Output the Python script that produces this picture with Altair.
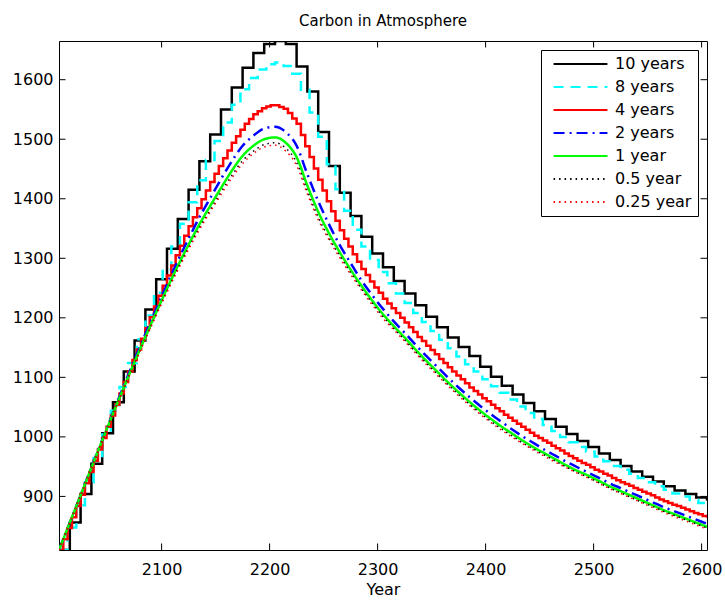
import altair as alt
import pandas as pd

# ---- data ----
years10 = list(range(2005, 2606, 10))
years8 = list(range(2005, 2606, 8))
years4 = list(range(2005, 2606, 4))

c10 = [810, 856, 904, 955, 1006, 1058, 1110, 1162, 1214, 1265,
       1316, 1366, 1415, 1463, 1508, 1550, 1587, 1620, 1645, 1660,
       1665, 1660, 1622, 1580, 1512, 1455, 1410, 1371, 1336, 1308,
       1285, 1262, 1241, 1221, 1202, 1184, 1167, 1151, 1136, 1118,
       1101, 1086, 1071, 1057, 1043, 1030, 1017, 1005, 993, 983,
       972, 961, 951, 942, 933, 925, 917, 910, 904, 898, 893]

c8 = [810, 848, 885, 924, 964, 1004, 1044, 1084, 1124, 1164,
      1204, 1242, 1281, 1320, 1358, 1394, 1431, 1465, 1497, 1528,
      1558, 1584, 1603, 1617, 1626, 1629, 1623, 1610, 1583, 1545,
      1504, 1458, 1416, 1380, 1348, 1320, 1297, 1277, 1258, 1241,
      1225, 1208, 1193, 1178, 1163, 1149, 1135, 1122, 1110, 1097,
      1085, 1074, 1063, 1051, 1040, 1030, 1020, 1010, 1000, 991,
      983, 975, 967, 959, 951, 945, 938, 931, 924, 917,
      911, 905, 900, 894, 889, 883]

c4 = [810, 828, 847, 865, 884, 903, 922, 941, 960, 979,
      998, 1017, 1036, 1054, 1073, 1092, 1110, 1129, 1147, 1165,
      1183, 1201, 1219, 1237, 1254, 1271, 1288, 1305, 1321, 1338,
      1354, 1369, 1384, 1399, 1414, 1428, 1442, 1455, 1468, 1481,
      1494, 1505, 1516, 1526, 1534, 1542, 1547, 1552, 1555, 1557,
      1557, 1554, 1551, 1544, 1535, 1526, 1507, 1488, 1470, 1451,
      1432, 1414, 1396, 1379, 1363, 1347, 1333, 1320, 1307, 1294,
      1282, 1272, 1261, 1251, 1242, 1232, 1224, 1216, 1208, 1200,
      1192, 1184, 1176, 1168, 1161, 1153, 1146, 1139, 1131, 1124,
      1117, 1110, 1103, 1097, 1090, 1083, 1077, 1071, 1065, 1060,
      1054, 1048, 1043, 1037, 1032, 1027, 1022, 1017, 1012, 1007,
      1002, 998, 994, 990, 985, 981, 977, 972, 968, 964,
      960, 956, 953, 949, 945, 942, 938, 935, 931, 927,
      924, 921, 918, 914, 911, 908, 905, 902, 898, 895,
      892, 889, 886, 884, 881, 878, 875, 872, 870, 867, 864]

c2 = [810, 856, 902, 949, 995, 1041, 1086, 1130, 1173, 1215,
      1256, 1296, 1333, 1369, 1401, 1433, 1463, 1489, 1506, 1518,
      1521, 1512, 1489, 1441, 1396, 1357, 1322, 1292, 1263, 1238,
      1215, 1194, 1175, 1155, 1136, 1118, 1100, 1083, 1067, 1052,
      1038, 1025, 1012, 1000, 989, 978, 968, 958, 949, 940,
      931, 922, 914, 906, 898, 890, 882, 875, 868, 861, 854]

c1 = [810, 856, 902, 948, 994, 1039, 1083, 1126, 1168, 1209,
      1249, 1287, 1323, 1357, 1388, 1418, 1447, 1472, 1489, 1500,
      1503, 1494, 1470, 1422, 1378, 1342, 1310, 1281, 1254, 1229,
      1206, 1186, 1167, 1147, 1128, 1110, 1092, 1075, 1059, 1044,
      1030, 1017, 1005, 993, 982, 972, 962, 952, 943, 935,
      926, 917, 909, 901, 893, 885, 877, 870, 863, 856, 849]

c05 = [810, 856, 902, 948, 993, 1038, 1082, 1124, 1165, 1206,
       1245, 1283, 1318, 1351, 1381, 1411, 1439, 1464, 1480, 1491,
       1494, 1485, 1461, 1413, 1369, 1334, 1304, 1276, 1249, 1225,
       1202, 1182, 1163, 1143, 1124, 1106, 1088, 1071, 1055, 1040,
       1026, 1013, 1001, 989, 979, 969, 959, 949, 940, 932,
       923, 914, 906, 898, 890, 883, 875, 868, 861, 854, 847]

c025 = [810, 856, 902, 947, 993, 1037, 1081, 1123, 1164, 1204,
        1243, 1280, 1315, 1348, 1378, 1407, 1435, 1459, 1476, 1487,
        1490, 1480, 1456, 1408, 1365, 1331, 1301, 1273, 1247, 1222,
        1199, 1180, 1161, 1141, 1122, 1104, 1086, 1069, 1053, 1038,
        1024, 1011, 999, 988, 977, 967, 957, 948, 939, 931,
        922, 913, 905, 897, 889, 881, 873, 866, 859, 852, 845]

labels = ["10 years", "8 years", "4 years", "2 years", "1 year", "0.5 year", "0.25 year"]
colors = ["#000000", "#00ffff", "#ff0000", "#0000ff", "#00ff00", "#000000", "#ff0000"]
dashes = [[1, 0], [10, 7], [1, 0], [11, 5, 2, 5], [1, 0], [1.5, 4], [1.5, 4]]
widths = [2.5, 2.5, 2.5, 2.5, 2.5, 1.5, 1.5]
interp = ["step-after", "step-after", "step-after", "monotone", "monotone", "monotone", "monotone"]

xticks = [2100, 2200, 2300, 2400, 2500, 2600]
yticks = [900, 1000, 1100, 1200, 1300, 1400, 1500, 1600]

series = [(years10, c10), (years8, c8), (years4, c4), (years10, c2),
          (years10, c1), (years10, c05), (years10, c025)]

W, H = 648, 509
FONT = "DejaVu Sans"

xscale = alt.Scale(domain=[2005, 2605], nice=False, zero=False)
yscale = alt.Scale(domain=[810, 1665], nice=False, zero=False)

xaxis = alt.Axis(values=xticks, format="d", title="Year", grid=False, ticks=False,
                 tickSize=0, domain=False, labelPadding=11, labelFontSize=16,
                 labelFont=FONT, labelColor="black", titleFont=FONT, titleFontSize=16,
                 titleFontWeight="normal", titleColor="black", titlePadding=4,
                 labelFlush=False)
yaxis = alt.Axis(values=yticks, format="d", title="", grid=False, ticks=False,
                 tickSize=0, domain=False, labelPadding=6, labelFontSize=16,
                 labelFont=FONT, labelColor="black", labelFlush=False)

legend = alt.Legend(title=None, orient="none", legendX=482, legendY=9,
                    symbolType="stroke", symbolSize=2900, symbolStrokeWidth=2.2,
                    labelFont=FONT, labelFontSize=16, labelColor="black",
                    labelOffset=6, symbolOffset=5, padding=6, rowPadding=7,
                    clipHeight=16, strokeColor="black", fillColor="white",
                    cornerRadius=0)

layers = []
for i, (lab, (yrs, vals)) in enumerate(zip(labels, series)):
    df = pd.DataFrame({"year": yrs, "value": vals, "series": lab})
    layer = alt.Chart(df).mark_line(
        interpolate=interp[i], strokeWidth=widths[i], clip=True,
        strokeJoin="miter", strokeCap="butt"
    ).encode(
        x=alt.X("year:Q", scale=xscale, axis=xaxis),
        y=alt.Y("value:Q", scale=yscale, axis=yaxis),
        color=alt.Color("series:N", scale=alt.Scale(domain=labels, range=colors), legend=legend),
        strokeDash=alt.StrokeDash("series:N", scale=alt.Scale(domain=labels, range=dashes), legend=legend),
    )
    layers.append(layer)

# inward tick marks on all four sides (MATLAB style box)
tk = pd.DataFrame({"year": xticks})
tv = pd.DataFrame({"value": yticks})
TL = 6.5
tick_bottom = alt.Chart(tk).mark_rule(color="black", strokeWidth=1).encode(
    x=alt.X("year:Q", scale=xscale, axis=xaxis), y=alt.value(H), y2=alt.value(H - TL))
tick_top = alt.Chart(tk).mark_rule(color="black", strokeWidth=1).encode(
    x=alt.X("year:Q", scale=xscale, axis=xaxis), y=alt.value(0), y2=alt.value(TL))
tick_left = alt.Chart(tv).mark_rule(color="black", strokeWidth=1).encode(
    y=alt.Y("value:Q", scale=yscale, axis=yaxis), x=alt.value(0), x2=alt.value(TL))
tick_right = alt.Chart(tv).mark_rule(color="black", strokeWidth=1).encode(
    y=alt.Y("value:Q", scale=yscale, axis=yaxis), x=alt.value(W), x2=alt.value(W - TL))

chart = alt.layer(*layers, tick_bottom, tick_top, tick_left, tick_right).properties(
    width=W, height=H,
    title=alt.Title("Carbon in Atmosphere", font=FONT, fontSize=15, fontWeight="normal",
                    color="black", anchor="middle", offset=12),
    autosize=alt.AutoSizeParams(type="none"),
    padding={"left": 59, "top": 41, "right": 18, "bottom": 50},
    background="white",
).configure_view(stroke="black", strokeWidth=1)

chart.save("out.html", embed_options={"renderer": "svg", "actions": False})
